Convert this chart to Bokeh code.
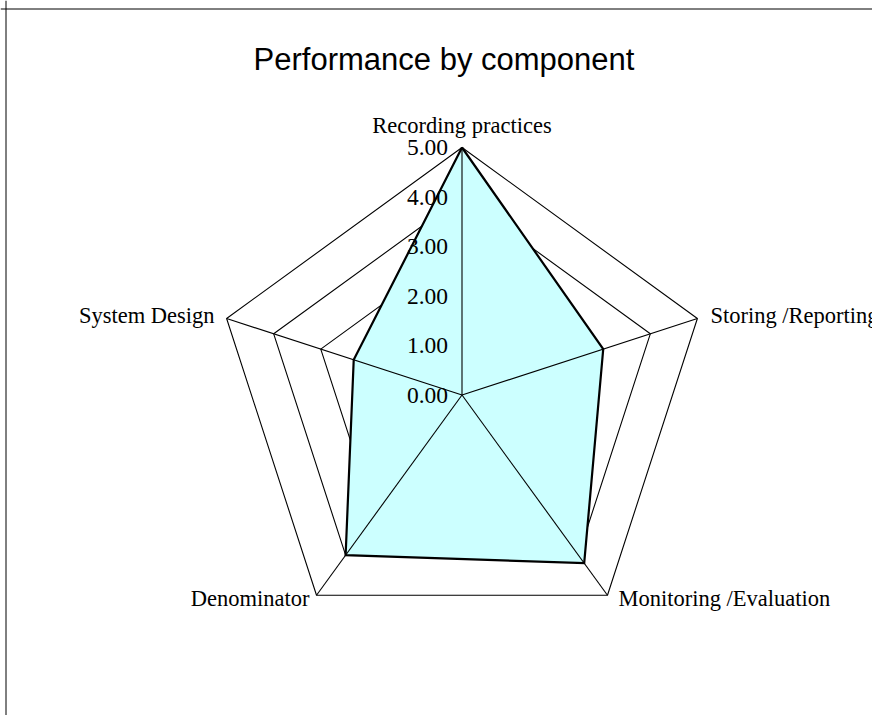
import math
from bokeh.plotting import figure
from bokeh.models import Range1d, Span
from bokeh.core.properties import value
from bokeh.embed import file_html
from bokeh.resources import INLINE

# ---- data ----
categories = ["Recording practices", "Storing /Reporting", "Monitoring /Evaluation",
              "Denominator", "System Design"]
scores = [5.0, 3.0, 4.2, 4.0, 2.3]
tick_values = [0, 1, 2, 3, 4, 5]
tick_labels = ["0.00", "1.00", "2.00", "3.00", "4.00", "5.00"]
title_text = "Performance by component"

# ---- layout ----
W, H = 872, 715
U = 49.5            # pixels per value unit
CX, CY = 461.5, 394.5  # pixel centre of the radar

p = figure(width=W, height=H, output_backend="svg", toolbar_location=None,
           x_range=Range1d(-CX / U, (W - CX) / U),
           y_range=Range1d(-(H - CY) / U, CY / U),
           min_border=0, min_border_left=0, min_border_right=0,
           min_border_top=0, min_border_bottom=0)
p.axis.visible = False
p.grid.visible = False
p.outline_line_color = None
p.background_fill_color = "white"
p.border_fill_color = "white"

n = len(categories)
angles = [math.pi / 2 - 2 * math.pi * i / n for i in range(n)]

def pt(r, a):
    return r * math.cos(a), r * math.sin(a)

rmax = max(tick_values)

# rings
ring_xs, ring_ys = [], []
for t in tick_values[1:]:
    xs = [pt(t, a)[0] for a in angles] + [pt(t, angles[0])[0]]
    ys = [pt(t, a)[1] for a in angles] + [pt(t, angles[0])[1]]
    ring_xs.append(xs)
    ring_ys.append(ys)
p.multi_line(ring_xs, ring_ys, line_color="black", line_width=1.1)

# data fill
dx = [pt(v, a)[0] for v, a in zip(scores, angles)]
dy = [pt(v, a)[1] for v, a in zip(scores, angles)]
p.patch(dx, dy, fill_color="#CCFFFF", line_color=None)

# spokes
sp_xs = [[0, pt(rmax, a)[0]] for a in angles]
sp_ys = [[0, pt(rmax, a)[1]] for a in angles]
p.multi_line(sp_xs, sp_ys, line_color="black", line_width=1.1)

# data outline
p.line(dx + [dx[0]], dy + [dy[0]], line_color="black", line_width=2.2,
       line_join="miter")

# value tick labels
p.text(x=[0] * len(tick_values), y=tick_values, text=tick_labels,
       text_font=value("Liberation Serif"), text_font_size="23.5px",
       text_align="right", text_baseline="middle", x_offset=-14,
       text_color="black")

# category labels
aligns = ["center", "left", "left", "right", "right"]
baselines = ["alphabetic", "middle", "middle", "middle", "middle"]
xoffs = [0, 13, 11, -7, -12]
yoffs = [-22, -3, 3, 3, -3]
for i, c in enumerate(categories):
    x, y = pt(rmax, angles[i])
    p.text(x=[x], y=[y], text=[c], text_font=value("Liberation Serif"),
           text_font_size="22.5px", text_align=aligns[i],
           text_baseline=baselines[i], x_offset=xoffs[i], y_offset=yoffs[i],
           text_color="black")

# title
p.text(x=[(443.5 - CX) / U], y=[(CY - 59) / U], text=[title_text],
       text_font=value("Liberation Sans"), text_font_size="31px",
       text_align="center", text_baseline="alphabetic", text_color="black")

# chart area border (left and top edges visible)
p.add_layout(Span(location=-CX / U + 5.5 / U, dimension="height",
                  line_color="black", line_width=1))
p.add_layout(Span(location=CY / U - 8.5 / U, dimension="width",
                  line_color="black", line_width=1))

open("out.html", "w").write(file_html(p, INLINE))
